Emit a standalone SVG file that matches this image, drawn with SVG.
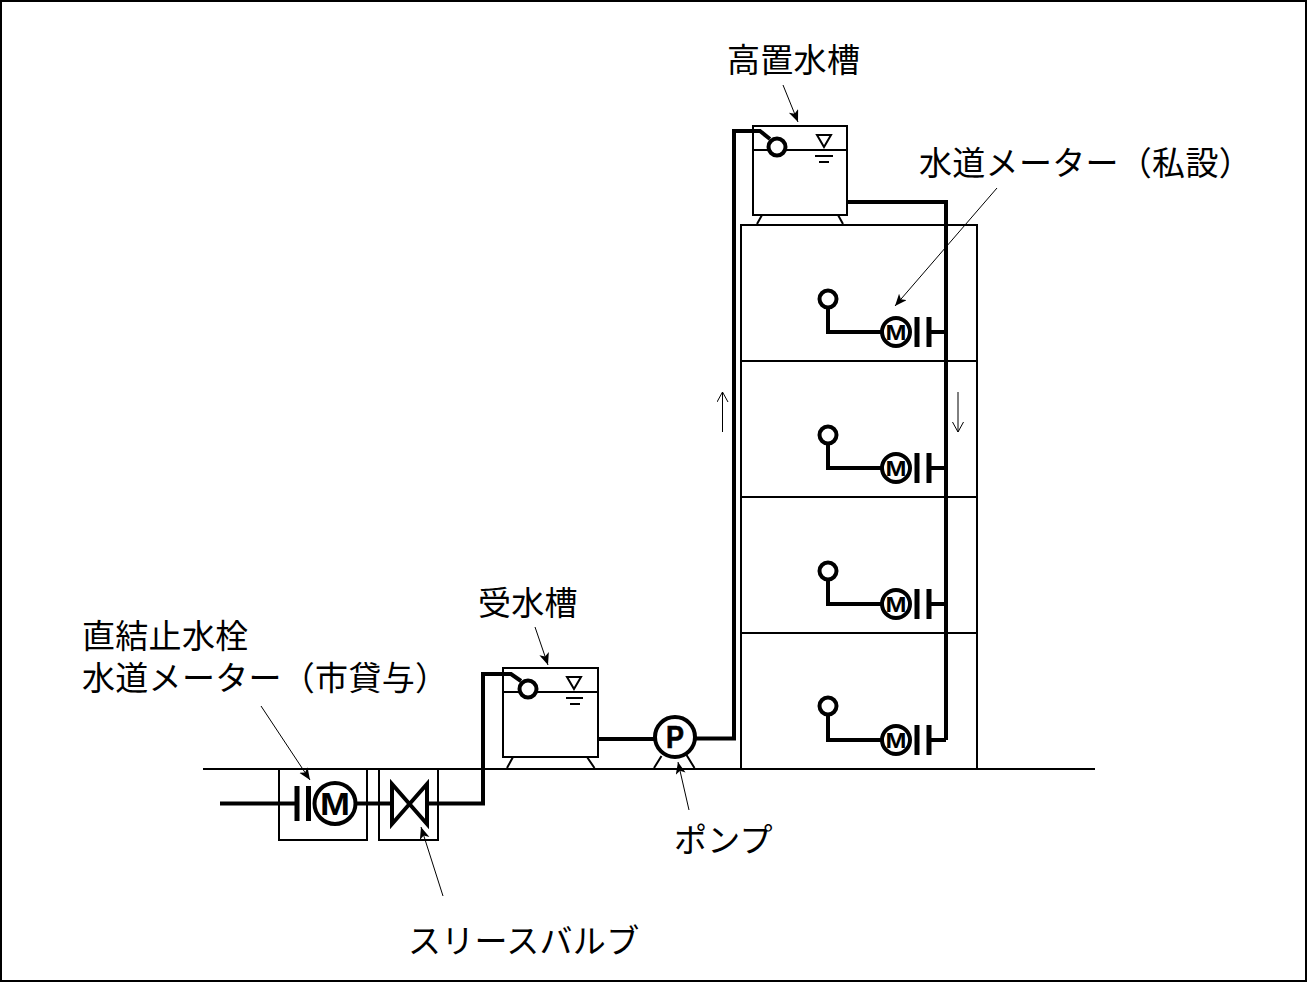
<svg xmlns="http://www.w3.org/2000/svg" width="1307" height="982" viewBox="0 0 1307 982">
<style>
.l{fill:none;stroke:#000;stroke-width:2}
.p{fill:none;stroke:#000;stroke-width:4}
.b{fill:none;stroke:#000;stroke-width:5}
.c{fill:#fff;stroke:#000;stroke-width:4}
.t{font-family:"Liberation Sans","Noto Sans CJK JP",sans-serif;font-size:33px;fill:#000;font-weight:400;letter-spacing:.3px}
.m{font-family:"Liberation Sans",sans-serif;font-weight:700;text-anchor:middle;fill:#000}
.a{fill:none;stroke:#000;stroke-width:1}
</style>
<defs>
<marker id="h" markerUnits="userSpaceOnUse" markerWidth="14" markerHeight="12" refX="12" refY="5" orient="auto"><path d="M0,0L12,5L0,10L3,5Z" fill="#000"/></marker>
<marker id="s" markerUnits="userSpaceOnUse" markerWidth="12" markerHeight="14" refX="10" refY="6" orient="auto"><path d="M0,0.5L10,6L0,11.5" fill="none" stroke="#000"/></marker>
<g id="mtr"><circle cx="0" cy="0" r="14" class="c"/><text x="0" y="8" font-size="22" textLength="21" lengthAdjust="spacingAndGlyphs" class="m">M</text><path d="M21,-15V15M33,-15V15" class="b"/><path d="M33,0H50" class="p"/></g>
</defs>
<rect id="frame" x="1" y="1" width="1305" height="980" fill="#fff" stroke="#000" stroke-width="2"/>
<g id="connectors">
<path class="p" d="M220,803.5H297M355,803.5H392M428,803.5H483V674H511L521,681"/>
<path class="p" d="M598,739H655M694,738.5H734V131H760L770,139"/>
<path class="p" d="M847,202H946V740"/>
<path class="p" d="M828,306V332H881M828,442V468H881M828,578V604H881M828,714V740H881"/>
<path class="a" marker-end="url(#h)" d="M261,706L310,780"/>
<path class="a" marker-end="url(#h)" d="M443,896L421,827"/>
<path class="a" marker-end="url(#h)" d="M535,627L548,665"/>
<path class="a" marker-end="url(#h)" d="M689,810L678,762"/>
<path class="a" marker-end="url(#h)" d="M783,85L798,122"/>
<path class="a" marker-end="url(#h)" d="M997,188L895,306"/>
<path class="a" marker-end="url(#s)" d="M722.5,432V392"/>
<path class="a" marker-end="url(#s)" d="M958,392V432"/>
</g>
<g id="ground"><path class="l" d="M203,769H1095"/></g>
<g id="building"><rect class="l" x="741" y="225" width="236" height="544"/><path class="l" d="M741,361H977M741,497H977M741,633H977"/></g>
<g id="high-tank">
<rect class="l" x="753" y="126" width="94" height="89"/><path class="l" d="M753,150H847M762,215L757,224M838,215L843,224M817,135H831L824,147ZM815,156H833M819,162H829"/>
<circle class="c" cx="777" cy="147" r="8.5"/>
</g>
<g id="low-tank">
<rect class="l" x="503" y="668" width="95" height="89"/><path class="l" d="M503,692H598M513,757L507,768M587,757L594.5,768M567,677H581L574,689ZM566,698H583M570,704H580"/>
<circle class="c" cx="528" cy="689" r="8.5"/>
</g>
<g id="pump"><path class="l" d="M661.5,756L654,768M686.5,755L694.5,768"/><circle class="c" cx="675" cy="737" r="20"/><text x="675" y="748" font-size="31" textLength="18" lengthAdjust="spacingAndGlyphs" class="m" stroke="#000" stroke-width=".6">P</text></g>
<g id="meter-city"><rect class="l" x="279" y="769" width="88" height="71"/>
<path class="b" d="M297,786V821M308.5,786V821"/><circle class="c" cx="335" cy="803.5" r="20.5"/><text x="335" y="815" font-size="31" textLength="30" lengthAdjust="spacingAndGlyphs" class="m">M</text></g>
<g id="valve"><rect class="l" x="379" y="769" width="59" height="71"/><path d="M392,784L427,824V784L392,824Z" fill="none" stroke="#000" stroke-width="4"/></g>
<g id="float-1"><circle class="c" cx="828" cy="299" r="8.5"/></g>
<g id="float-2"><circle class="c" cx="828" cy="435" r="8.5"/></g>
<g id="float-3"><circle class="c" cx="828" cy="571" r="8.5"/></g>
<g id="float-4"><circle class="c" cx="828" cy="706" r="8.5"/></g>
<use id="meter-1" href="#mtr" x="896" y="332"/>
<use id="meter-2" href="#mtr" x="896" y="468"/>
<use id="meter-3" href="#mtr" x="896" y="604"/>
<use id="meter-4" href="#mtr" x="896" y="740"/>
<g id="labels">
<text class="t" x="727" y="72">高置水槽</text>
<text class="t" x="919" y="175">水道メーター（私設）</text>
<text class="t" x="478" y="615">受水槽</text>
<text class="t" x="82" y="648">直結止水栓</text>
<text class="t" x="82" y="690">水道メーター（市貸与）</text>
<text class="t" x="674" y="852">ポンプ</text>
<text class="t" x="408" y="953">スリースバルブ</text>
</g>
</svg>
